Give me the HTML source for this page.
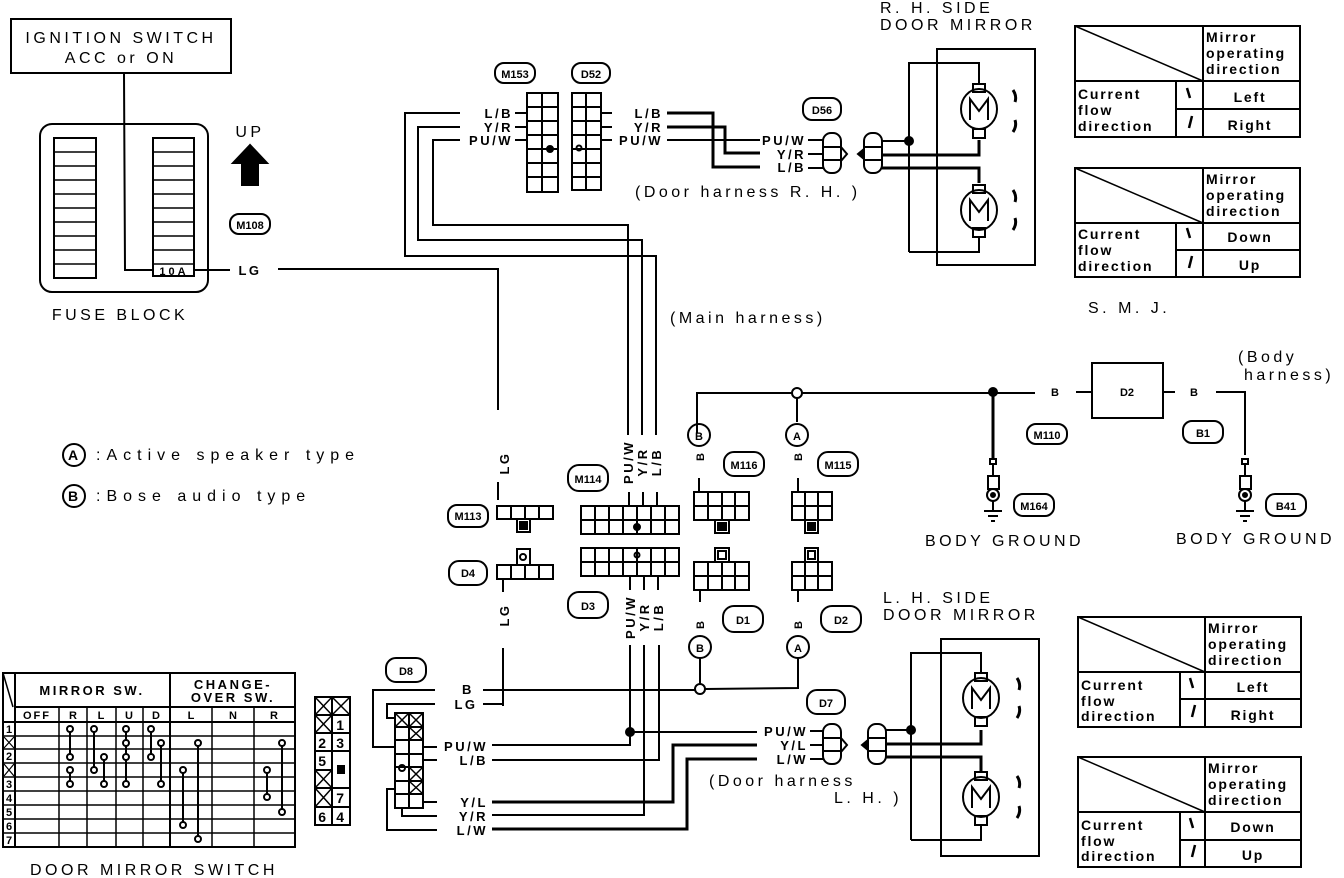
<!DOCTYPE html>
<html><head><meta charset="utf-8"><style>
html,body{margin:0;padding:0;background:#fff;}
svg{display:block;}
text{font-family:"Liberation Sans",sans-serif;fill:#000;}
.t{font-size:16px;letter-spacing:3.5px;}
.lg{font-size:16px;letter-spacing:6px;}
.s{font-size:13px;font-weight:bold;letter-spacing:2.5px;}
.m{font-size:14px;letter-spacing:1.8px;font-weight:bold;}
.n{font-size:11px;font-weight:bold;}
</style></head><body>
<svg width="1344" height="878" viewBox="0 0 1344 878" xmlns="http://www.w3.org/2000/svg" stroke="#000" fill="none" stroke-width="2">

<rect x="11" y="19" width="220" height="54"/>
<text class="t" x="121" y="43" text-anchor="middle" stroke="none">IGNITION SWITCH</text>
<text class="t" x="121" y="63" text-anchor="middle" stroke="none">ACC or ON</text>
<polyline points="124,73 125,270 154,270"/>
<rect x="40" y="124" width="168" height="168" rx="12"/>
<rect x="54" y="138" width="42" height="140"/>
<g stroke-width="1.5">
<line x1="54" y1="152" x2="96" y2="152"/><line x1="54" y1="166" x2="96" y2="166"/><line x1="54" y1="180" x2="96" y2="180"/><line x1="54" y1="194" x2="96" y2="194"/><line x1="54" y1="208" x2="96" y2="208"/><line x1="54" y1="222" x2="96" y2="222"/><line x1="54" y1="236" x2="96" y2="236"/><line x1="54" y1="250" x2="96" y2="250"/><line x1="54" y1="264" x2="96" y2="264"/>
</g>
<rect x="153" y="138" width="41" height="138"/>
<g stroke-width="1.5">
<line x1="153" y1="152" x2="194" y2="152"/><line x1="153" y1="166" x2="194" y2="166"/><line x1="153" y1="180" x2="194" y2="180"/><line x1="153" y1="194" x2="194" y2="194"/><line x1="153" y1="208" x2="194" y2="208"/><line x1="153" y1="222" x2="194" y2="222"/><line x1="153" y1="236" x2="194" y2="236"/><line x1="153" y1="250" x2="194" y2="250"/><line x1="153" y1="264" x2="194" y2="264"/>
</g>
<text class="n" x="174" y="275" text-anchor="middle" stroke="none" letter-spacing="3">10A</text>
<line x1="194" y1="270" x2="230" y2="270"/>
<text class="s" x="250" y="275" text-anchor="middle" stroke="none">LG</text>
<text class="t" x="120" y="320" text-anchor="middle" stroke="none">FUSE BLOCK</text>
<text class="t" x="250" y="137" text-anchor="middle" stroke="none">UP</text>
<polygon points="250,145 233,163 242,163 242,185 258,185 258,163 267,163" fill="#000"/>
<rect x="230" y="214" width="40" height="20" rx="9"/>
<text class="n" x="250" y="229" text-anchor="middle" stroke="none">M108</text>

<circle cx="74" cy="455" r="11"/><text class="m" x="74" y="460" text-anchor="middle" stroke="none" letter-spacing="0">A</text>
<text class="lg" x="96" y="460" stroke="none">:Active speaker type</text>
<circle cx="74" cy="496" r="11"/><text class="m" x="74" y="501" text-anchor="middle" stroke="none" letter-spacing="0">B</text>
<text class="lg" x="96" y="501" stroke="none">:Bose audio type</text>

<polyline points="278,269 498,269 498,410"/>
<text class="s" transform="translate(509,463) rotate(-90)" text-anchor="middle" stroke="none">LG</text>
<line x1="498" y1="482" x2="498" y2="500"/>
<rect x="448" y="505" width="40" height="22" rx="9"/><text class="n" x="468" y="520" text-anchor="middle" stroke="none">M113</text>
<rect x="497" y="506" width="56" height="13"/>
<line x1="511" y1="506" x2="511" y2="519"/><line x1="525" y1="506" x2="525" y2="519"/><line x1="539" y1="506" x2="539" y2="519"/>
<rect x="517" y="519" width="13" height="13"/><rect x="520" y="522" width="7" height="7" fill="#000"/>
<rect x="449" y="561" width="38" height="24" rx="10"/><text class="n" x="468" y="577" text-anchor="middle" stroke="none">D4</text>
<rect x="497" y="565" width="56" height="14"/>
<line x1="511" y1="565" x2="511" y2="579"/><line x1="525" y1="565" x2="525" y2="579"/><line x1="539" y1="565" x2="539" y2="579"/>
<rect x="517" y="549" width="13" height="16"/><circle cx="523" cy="557" r="3"/>
<line x1="503" y1="579" x2="503" y2="592"/>
<text class="s" transform="translate(509,615) rotate(-90)" text-anchor="middle" stroke="none">LG</text>
<line x1="503" y1="648" x2="503" y2="706"/>

<rect x="495" y="63" width="40" height="20" rx="9"/><text class="n" x="515" y="78" text-anchor="middle" stroke="none">M153</text>
<rect x="572" y="63" width="38" height="20" rx="9"/><text class="n" x="591" y="78" text-anchor="middle" stroke="none">D52</text>
<rect x="527" y="93" width="31" height="99"/>
<line x1="542" y1="93" x2="542" y2="192"/>
<line x1="527" y1="107" x2="558" y2="107"/><line x1="527" y1="121" x2="558" y2="121"/><line x1="527" y1="135" x2="558" y2="135"/><line x1="527" y1="149" x2="558" y2="149"/><line x1="527" y1="163" x2="558" y2="163"/><line x1="527" y1="177" x2="558" y2="177"/>
<circle cx="550" cy="149" r="3" fill="#000"/>
<rect x="572" y="93" width="29" height="97"/>
<line x1="586" y1="93" x2="586" y2="190"/>
<line x1="572" y1="107" x2="601" y2="107"/><line x1="572" y1="121" x2="601" y2="121"/><line x1="572" y1="135" x2="601" y2="135"/><line x1="572" y1="149" x2="601" y2="149"/><line x1="572" y1="163" x2="601" y2="163"/><line x1="572" y1="177" x2="601" y2="177"/>
<circle cx="579" cy="148" r="2.5"/>
<text class="s" x="513" y="118" text-anchor="end" stroke="none">L/B</text>
<text class="s" x="513" y="132" text-anchor="end" stroke="none">Y/R</text>
<text class="s" x="513" y="145" text-anchor="end" stroke="none">PU/W</text>
<line x1="515" y1="113" x2="527" y2="113"/><line x1="515" y1="127" x2="527" y2="127"/><line x1="515" y1="140" x2="527" y2="140"/>
<polyline points="460,113 405,113 405,256 656,256 656,435"/>
<polyline points="460,127 418,127 418,240 642,240 642,435"/>
<polyline points="460,140 433,140 433,225 628,225 628,435"/>
<text class="s" x="663" y="118" text-anchor="end" stroke="none">L/B</text>
<text class="s" x="663" y="132" text-anchor="end" stroke="none">Y/R</text>
<text class="s" x="663" y="145" text-anchor="end" stroke="none">PU/W</text>
<line x1="601" y1="113" x2="612" y2="113"/><line x1="601" y1="127" x2="612" y2="127"/><line x1="601" y1="140" x2="612" y2="140"/>
<polyline points="667,113 713,113 713,167 760,167" stroke-width="3"/>
<polyline points="667,127 725,127 725,153 760,153" stroke-width="3"/>
<line x1="667" y1="140" x2="760" y2="140"/>
<rect x="803" y="98" width="38" height="22" rx="9"/><text class="n" x="822" y="114" text-anchor="middle" stroke="none">D56</text>
<text class="s" x="806" y="145" text-anchor="end" stroke="none">PU/W</text>
<text class="s" x="806" y="159" text-anchor="end" stroke="none">Y/R</text>
<text class="s" x="806" y="172" text-anchor="end" stroke="none">L/B</text>
<line x1="808" y1="140" x2="823" y2="140"/><line x1="808" y1="154" x2="823" y2="154"/><line x1="808" y1="168" x2="823" y2="168"/>
<rect x="823" y="133" width="18" height="40" rx="8"/><line x1="823" y1="147" x2="841" y2="147"/><line x1="823" y1="160" x2="841" y2="160"/>
<polyline points="841,147 847,154 841,161"/>
<rect x="864" y="133" width="18" height="40" rx="8"/><line x1="864" y1="147" x2="882" y2="147"/><line x1="864" y1="160" x2="882" y2="160"/>
<polygon points="864,149 858,154 864,159" fill="#000"/>
<text class="t" x="635" y="197" stroke="none">(Door harness R. H. )</text>

<text class="t" x="880" y="13" stroke="none">R. H.  SIDE</text>
<text class="t" x="880" y="30" stroke="none">DOOR MIRROR</text>
<rect x="937" y="49" width="98" height="216"/>
<polyline points="909,252 909,63 979,63 979,84"/>
<line x1="882" y1="141" x2="909" y2="141"/><circle cx="909" cy="141" r="4" fill="#000"/>
<polyline points="882,155 979,155 979,140" stroke-width="3"/>
<polyline points="882,168 979,168 979,183" stroke-width="3"/>
<polyline points="979,237 979,252 909,252"/>
<rect x="973" y="84" width="12" height="8"/><ellipse cx="979" cy="109" rx="18" ry="20"/><rect x="973" y="129" width="12" height="9"/>
<polyline points="970,120 970,99 979,111 988,99 988,120"/>
<rect x="973" y="185" width="12" height="8"/><ellipse cx="979" cy="210" rx="18" ry="20"/><rect x="973" y="228" width="12" height="9"/>
<polyline points="970,221 970,200 979,212 988,200 988,221"/>
<path d="M1013,90 q4,6 2,12 M1015,120 q2,6 -2,12 M1013,190 q4,6 2,12 M1015,218 q2,6 -2,12" stroke-width="3"/>

<g>
<rect x="1075" y="26" width="225" height="111"/>
<line x1="1075" y1="26" x2="1203" y2="81" stroke-width="1.5"/>
<line x1="1075" y1="81" x2="1300" y2="81"/><line x1="1203" y1="26" x2="1203" y2="137"/>
<line x1="1176" y1="81" x2="1176" y2="137"/><line x1="1176" y1="109" x2="1300" y2="109"/>
<text class="m" x="1206" y="42" stroke="none">Mirror</text><text class="m" x="1206" y="58" stroke="none">operating</text><text class="m" x="1206" y="74" stroke="none">direction</text>
<text class="m" x="1078" y="99" stroke="none">Current</text><text class="m" x="1078" y="115" stroke="none">flow</text><text class="m" x="1078" y="131" stroke="none">direction</text>
<text class="m" x="1250" y="102" text-anchor="middle" stroke="none">Left</text><text class="m" x="1250" y="130" text-anchor="middle" stroke="none">Right</text>
<path d="M1187,88 l3,10 M1192,116 l-3,12" stroke-width="2.5"/>
</g>
<g>
<rect x="1075" y="168" width="225" height="109"/>
<line x1="1075" y1="168" x2="1203" y2="223" stroke-width="1.5"/>
<line x1="1075" y1="223" x2="1300" y2="223"/><line x1="1203" y1="168" x2="1203" y2="277"/>
<line x1="1176" y1="223" x2="1176" y2="277"/><line x1="1176" y1="250" x2="1300" y2="250"/>
<text class="m" x="1206" y="184" stroke="none">Mirror</text><text class="m" x="1206" y="200" stroke="none">operating</text><text class="m" x="1206" y="216" stroke="none">direction</text>
<text class="m" x="1078" y="239" stroke="none">Current</text><text class="m" x="1078" y="255" stroke="none">flow</text><text class="m" x="1078" y="271" stroke="none">direction</text>
<text class="m" x="1250" y="242" text-anchor="middle" stroke="none">Down</text><text class="m" x="1250" y="270" text-anchor="middle" stroke="none">Up</text>
<path d="M1187,228 l3,10 M1192,256 l-3,12" stroke-width="2.5"/>
</g>
<text class="t" x="1088" y="313" stroke="none">S. M. J.</text>
<g>
<rect x="1078" y="617" width="223" height="110"/>
<line x1="1078" y1="617" x2="1205" y2="672" stroke-width="1.5"/>
<line x1="1078" y1="672" x2="1301" y2="672"/><line x1="1205" y1="617" x2="1205" y2="727"/>
<line x1="1180" y1="672" x2="1180" y2="727"/><line x1="1180" y1="699" x2="1301" y2="699"/>
<text class="m" x="1208" y="633" stroke="none">Mirror</text><text class="m" x="1208" y="649" stroke="none">operating</text><text class="m" x="1208" y="665" stroke="none">direction</text>
<text class="m" x="1081" y="690" stroke="none">Current</text><text class="m" x="1081" y="706" stroke="none">flow</text><text class="m" x="1081" y="721" stroke="none">direction</text>
<text class="m" x="1253" y="692" text-anchor="middle" stroke="none">Left</text><text class="m" x="1253" y="720" text-anchor="middle" stroke="none">Right</text>
<path d="M1190,678 l3,10 M1195,705 l-3,12" stroke-width="2.5"/>
</g>
<g>
<rect x="1078" y="757" width="223" height="110"/>
<line x1="1078" y1="757" x2="1205" y2="812" stroke-width="1.5"/>
<line x1="1078" y1="812" x2="1301" y2="812"/><line x1="1205" y1="757" x2="1205" y2="867"/>
<line x1="1180" y1="812" x2="1180" y2="867"/><line x1="1180" y1="840" x2="1301" y2="840"/>
<text class="m" x="1208" y="773" stroke="none">Mirror</text><text class="m" x="1208" y="789" stroke="none">operating</text><text class="m" x="1208" y="805" stroke="none">direction</text>
<text class="m" x="1081" y="830" stroke="none">Current</text><text class="m" x="1081" y="846" stroke="none">flow</text><text class="m" x="1081" y="861" stroke="none">direction</text>
<text class="m" x="1253" y="832" text-anchor="middle" stroke="none">Down</text><text class="m" x="1253" y="860" text-anchor="middle" stroke="none">Up</text>
<path d="M1190,818 l3,10 M1195,845 l-3,12" stroke-width="2.5"/>
</g>

<text class="t" x="670" y="323" stroke="none">(Main harness)</text>
<polyline points="697,433 697,393 1035,393"/>
<circle cx="797" cy="393" r="5" fill="#fff"/>
<line x1="797" y1="398" x2="797" y2="422"/>
<circle cx="993" cy="392" r="4" fill="#000"/>
<polyline points="993,392 993,460" stroke-width="3"/>
<text class="n" x="1055" y="396" text-anchor="middle" stroke="none">B</text>
<line x1="1076" y1="392" x2="1092" y2="392"/>
<rect x="1092" y="363" width="71" height="55"/>
<text class="n" x="1127" y="396" text-anchor="middle" stroke="none">D2</text>
<line x1="1163" y1="392" x2="1175" y2="392"/>
<text class="n" x="1194" y="396" text-anchor="middle" stroke="none">B</text>
<polyline points="1216,392 1245,392 1245,455"/>
<text class="t" x="1238" y="362" stroke="none">(Body</text>
<text class="t" x="1244" y="380" stroke="none">harness)</text>
<rect x="1027" y="424" width="40" height="20" rx="9"/><text class="n" x="1047" y="439" text-anchor="middle" stroke="none">M110</text>
<rect x="1183" y="421" width="40" height="22" rx="9"/><text class="n" x="1203" y="437" text-anchor="middle" stroke="none">B1</text>
<g>
<rect x="990" y="459" width="6" height="5"/><line x1="993" y1="464" x2="993" y2="476"/>
<rect x="988" y="476" width="11" height="13"/><circle cx="993" cy="495" r="6"/><circle cx="993" cy="495" r="2" fill="#000"/>
<line x1="993" y1="501" x2="993" y2="511"/><line x1="984" y1="511" x2="1002" y2="511"/><line x1="988" y1="516" x2="998" y2="516"/><line x1="991" y1="521" x2="995" y2="521"/>
<rect x="1014" y="494" width="40" height="22" rx="9"/><text class="n" x="1034" y="510" text-anchor="middle" stroke="none">M164</text>
<text class="t" x="925" y="546" stroke="none">BODY GROUND</text>
</g>
<g>
<rect x="1242" y="459" width="6" height="5"/><line x1="1245" y1="464" x2="1245" y2="476"/>
<rect x="1240" y="476" width="11" height="13"/><circle cx="1245" cy="495" r="6"/><circle cx="1245" cy="495" r="2" fill="#000"/>
<line x1="1245" y1="501" x2="1245" y2="511"/><line x1="1236" y1="511" x2="1254" y2="511"/><line x1="1240" y1="516" x2="1250" y2="516"/><line x1="1243" y1="521" x2="1247" y2="521"/>
<rect x="1266" y="494" width="40" height="22" rx="9"/><text class="n" x="1286" y="510" text-anchor="middle" stroke="none">B41</text>
<text class="t" x="1176" y="544" stroke="none">BODY GROUND</text>
</g>

<circle cx="699" cy="435" r="11"/><text class="n" x="699" y="440" text-anchor="middle" stroke="none">B</text>
<circle cx="797" cy="435" r="11"/><text class="n" x="797" y="440" text-anchor="middle" stroke="none">A</text>
<text class="n" transform="translate(704,457) rotate(-90)" text-anchor="middle" stroke="none">B</text>
<text class="n" transform="translate(802,457) rotate(-90)" text-anchor="middle" stroke="none">B</text>
<line x1="699" y1="478" x2="699" y2="491"/><line x1="798" y1="478" x2="798" y2="491"/>
<rect x="724" y="452" width="40" height="24" rx="10"/><text class="n" x="744" y="469" text-anchor="middle" stroke="none">M116</text>
<rect x="694" y="492" width="55" height="28"/><line x1="694" y1="506" x2="749" y2="506"/>
<line x1="708" y1="492" x2="708" y2="520"/><line x1="722" y1="492" x2="722" y2="520"/><line x1="735" y1="492" x2="735" y2="520"/>
<rect x="715" y="520" width="14" height="13"/><rect x="718" y="523" width="8" height="7" fill="#000"/>
<rect x="818" y="452" width="40" height="24" rx="10"/><text class="n" x="838" y="469" text-anchor="middle" stroke="none">M115</text>
<rect x="792" y="492" width="40" height="28"/><line x1="792" y1="506" x2="832" y2="506"/>
<line x1="805" y1="492" x2="805" y2="520"/><line x1="818" y1="492" x2="818" y2="520"/>
<rect x="805" y="520" width="13" height="13"/><rect x="808" y="523" width="7" height="7" fill="#000"/>
<rect x="694" y="562" width="55" height="28"/><line x1="694" y1="576" x2="749" y2="576"/>
<line x1="708" y1="562" x2="708" y2="590"/><line x1="722" y1="562" x2="722" y2="590"/><line x1="735" y1="562" x2="735" y2="590"/>
<rect x="715" y="548" width="14" height="14"/><rect x="718" y="551" width="8" height="8"/>
<line x1="700" y1="590" x2="700" y2="602"/>
<rect x="723" y="606" width="40" height="26" rx="11"/><text class="n" x="743" y="624" text-anchor="middle" stroke="none">D1</text>
<rect x="792" y="562" width="40" height="28"/><line x1="792" y1="576" x2="832" y2="576"/>
<line x1="805" y1="562" x2="805" y2="590"/><line x1="818" y1="562" x2="818" y2="590"/>
<rect x="805" y="548" width="13" height="14"/><rect x="808" y="551" width="7" height="8"/>
<line x1="798" y1="590" x2="798" y2="602"/>
<rect x="821" y="606" width="40" height="26" rx="11"/><text class="n" x="841" y="624" text-anchor="middle" stroke="none">D2</text>
<text class="n" transform="translate(704,625) rotate(-90)" text-anchor="middle" stroke="none">B</text>
<text class="n" transform="translate(802,625) rotate(-90)" text-anchor="middle" stroke="none">B</text>
<circle cx="700" cy="647" r="11"/><text class="n" x="700" y="652" text-anchor="middle" stroke="none">B</text>
<circle cx="798" cy="647" r="11"/><text class="n" x="798" y="652" text-anchor="middle" stroke="none">A</text>
<line x1="700" y1="658" x2="700" y2="684"/>
<polyline points="798,658 798,688 705,689"/>
<line x1="483" y1="690" x2="695" y2="690"/>
<circle cx="700" cy="689" r="5" fill="#fff"/>

<rect x="568" y="465" width="40" height="26" rx="11"/><text class="n" x="588" y="483" text-anchor="middle" stroke="none">M114</text>
<text class="s" transform="translate(633,462) rotate(-90)" text-anchor="middle" stroke="none">PU/W</text>
<text class="s" transform="translate(647,462) rotate(-90)" text-anchor="middle" stroke="none">Y/R</text>
<text class="s" transform="translate(661,462) rotate(-90)" text-anchor="middle" stroke="none">L/B</text>
<line x1="629" y1="492" x2="629" y2="506"/><line x1="643" y1="492" x2="643" y2="506"/><line x1="657" y1="492" x2="657" y2="506"/>
<rect x="581" y="506" width="98" height="28"/><line x1="581" y1="520" x2="679" y2="520"/>
<line x1="595" y1="506" x2="595" y2="534"/><line x1="609" y1="506" x2="609" y2="534"/><line x1="623" y1="506" x2="623" y2="534"/><line x1="637" y1="506" x2="637" y2="534"/><line x1="651" y1="506" x2="651" y2="534"/><line x1="665" y1="506" x2="665" y2="534"/>
<circle cx="637" cy="527" r="3" fill="#000"/>
<rect x="581" y="548" width="98" height="28"/><line x1="581" y1="562" x2="679" y2="562"/>
<line x1="595" y1="548" x2="595" y2="576"/><line x1="609" y1="548" x2="609" y2="576"/><line x1="623" y1="548" x2="623" y2="576"/><line x1="637" y1="548" x2="637" y2="576"/><line x1="651" y1="548" x2="651" y2="576"/><line x1="665" y1="548" x2="665" y2="576"/>
<circle cx="637" cy="555" r="2.5"/>
<rect x="568" y="592" width="40" height="26" rx="11"/><text class="n" x="588" y="610" text-anchor="middle" stroke="none">D3</text>
<line x1="630" y1="576" x2="630" y2="590"/><line x1="644" y1="576" x2="644" y2="590"/><line x1="658" y1="576" x2="658" y2="590"/>
<text class="s" transform="translate(635,617) rotate(-90)" text-anchor="middle" stroke="none">PU/W</text>
<text class="s" transform="translate(649,617) rotate(-90)" text-anchor="middle" stroke="none">Y/R</text>
<text class="s" transform="translate(663,617) rotate(-90)" text-anchor="middle" stroke="none">L/B</text>
<polyline points="630,645 630,745 492,745"/>
<polyline points="644,645 644,815 492,815"/>
<polyline points="659,645 659,760 492,760"/>
<circle cx="630" cy="732" r="4" fill="#000"/>
<line x1="630" y1="732" x2="757" y2="732"/>
<polyline points="492,802 673,802 673,745 757,745" stroke-width="3"/>
<polyline points="492,829 687,829 687,759 757,759" stroke-width="3"/>

<rect x="807" y="690" width="38" height="24" rx="10"/><text class="n" x="826" y="707" text-anchor="middle" stroke="none">D7</text>
<text class="s" x="808" y="736" text-anchor="end" stroke="none">PU/W</text>
<text class="s" x="808" y="750" text-anchor="end" stroke="none">Y/L</text>
<text class="s" x="808" y="764" text-anchor="end" stroke="none">L/W</text>
<line x1="810" y1="731" x2="823" y2="731"/><line x1="810" y1="745" x2="823" y2="745"/><line x1="810" y1="759" x2="823" y2="759"/>
<rect x="823" y="724" width="18" height="40" rx="8"/><line x1="823" y1="738" x2="841" y2="738"/><line x1="823" y1="751" x2="841" y2="751"/>
<polyline points="841,738 847,745 841,752"/>
<rect x="868" y="724" width="18" height="40" rx="8"/><line x1="868" y1="738" x2="886" y2="738"/><line x1="868" y1="751" x2="886" y2="751"/>
<polygon points="868,740 862,745 868,750" fill="#000"/>
<text class="t" x="709" y="786" stroke="none">(Door harness</text>
<text class="t" x="834" y="803" stroke="none">L. H. )</text>

<text class="t" x="883" y="603" stroke="none">L. H.  SIDE</text>
<text class="t" x="883" y="620" stroke="none">DOOR MIRROR</text>
<rect x="941" y="639" width="98" height="217"/>
<polyline points="911,840 911,653 981,653 981,672"/>
<line x1="886" y1="730" x2="911" y2="730"/><circle cx="911" cy="730" r="4" fill="#000"/>
<polyline points="886,744 981,744 981,730" stroke-width="3"/>
<polyline points="886,757 981,757 981,772" stroke-width="3"/>
<polyline points="981,826 981,840 911,840"/>
<rect x="975" y="673" width="12" height="8"/><ellipse cx="981" cy="698" rx="18" ry="20"/><rect x="975" y="717" width="12" height="9"/>
<polyline points="972,709 972,688 981,700 990,688 990,709"/>
<rect x="975" y="772" width="12" height="8"/><ellipse cx="981" cy="797" rx="18" ry="20"/><rect x="975" y="816" width="12" height="9"/>
<polyline points="972,808 972,787 981,799 990,787 990,808"/>
<path d="M1017,678 q4,6 2,12 M1019,706 q2,6 -2,12 M1017,776 q4,6 2,12 M1019,806 q2,6 -2,12" stroke-width="3"/>

<rect x="386" y="658" width="40" height="24" rx="10"/><text class="n" x="406" y="675" text-anchor="middle" stroke="none">D8</text>
<text class="s" x="468" y="694" text-anchor="middle" stroke="none">B</text>
<text class="s" x="466" y="709" text-anchor="middle" stroke="none">LG</text>
<polyline points="435,690 373,690 373,747 395,747"/>
<polyline points="435,704 387,704 387,718 395,718"/>
<line x1="483" y1="704" x2="503" y2="704"/>
<rect x="395" y="713" width="28" height="95"/>
<line x1="409" y1="713" x2="409" y2="808"/>
<line x1="395" y1="727" x2="423" y2="727"/><line x1="395" y1="740" x2="423" y2="740"/><line x1="395" y1="754" x2="423" y2="754"/><line x1="395" y1="767" x2="423" y2="767"/><line x1="395" y1="781" x2="423" y2="781"/><line x1="395" y1="794" x2="423" y2="794"/>
<path d="M395,713 l14,14 M409,713 l-14,14 M409,713 l14,14 M423,713 l-14,14 M409,727 l14,13 M423,727 l-14,13 M409,767 l14,14 M423,767 l-14,14 M409,781 l14,13 M423,781 l-14,13" stroke-width="1.5"/>
<circle cx="402" cy="768" r="3"/>
<line x1="423" y1="747" x2="437" y2="747"/><line x1="423" y1="760" x2="437" y2="760"/><line x1="423" y1="802" x2="437" y2="802"/>
<polyline points="402,808 402,816 437,816"/>
<polyline points="395,789 387,789 387,830 437,830"/>
<text class="s" x="488" y="751" text-anchor="end" stroke="none">PU/W</text>
<text class="s" x="488" y="765" text-anchor="end" stroke="none">L/B</text>
<text class="s" x="488" y="807" text-anchor="end" stroke="none">Y/L</text>
<text class="s" x="488" y="821" text-anchor="end" stroke="none">Y/R</text>
<text class="s" x="488" y="835" text-anchor="end" stroke="none">L/W</text>

<rect x="315" y="697" width="35" height="128"/>
<line x1="332" y1="697" x2="332" y2="825"/>
<line x1="315" y1="715" x2="350" y2="715"/><line x1="315" y1="733" x2="350" y2="733"/><line x1="315" y1="751" x2="350" y2="751"/><line x1="315" y1="770" x2="332" y2="770"/><line x1="315" y1="788" x2="350" y2="788"/><line x1="315" y1="807" x2="350" y2="807"/>
<path d="M315,697 l17,18 M332,697 l-17,18 M332,697 l18,18 M350,697 l-18,18 M315,715 l17,18 M332,715 l-17,18 M315,770 l17,18 M332,770 l-17,18 M315,788 l17,19 M332,788 l-17,19" stroke-width="1.5"/>
<text class="m" x="341" y="730" text-anchor="middle" stroke="none" letter-spacing="0">1</text>
<text class="m" x="323" y="748" text-anchor="middle" stroke="none" letter-spacing="0">2</text><text class="m" x="341" y="748" text-anchor="middle" stroke="none" letter-spacing="0">3</text>
<text class="m" x="323" y="766" text-anchor="middle" stroke="none" letter-spacing="0">5</text>
<rect x="337" y="765" width="8" height="9" fill="#000" stroke="none"/>
<text class="m" x="341" y="803" text-anchor="middle" stroke="none" letter-spacing="0">7</text>
<text class="m" x="323" y="822" text-anchor="middle" stroke="none" letter-spacing="0">6</text><text class="m" x="341" y="822" text-anchor="middle" stroke="none" letter-spacing="0">4</text>

<rect x="3" y="673" width="292" height="174"/>
<line x1="15" y1="673" x2="15" y2="847"/>
<line x1="3" y1="673" x2="13" y2="707" stroke-width="1.5"/>
<line x1="170" y1="673" x2="170" y2="847"/>
<line x1="15" y1="707" x2="295" y2="707"/>
<line x1="3" y1="722" x2="295" y2="722"/>
<g stroke-width="1.5">
<line x1="59" y1="707" x2="59" y2="847"/><line x1="87" y1="707" x2="87" y2="847"/><line x1="116" y1="707" x2="116" y2="847"/><line x1="143" y1="707" x2="143" y2="847"/><line x1="212" y1="707" x2="212" y2="847"/><line x1="254" y1="707" x2="254" y2="847"/>
<line x1="3" y1="736" x2="295" y2="736"/><line x1="3" y1="749" x2="295" y2="749"/><line x1="3" y1="763" x2="295" y2="763"/><line x1="3" y1="777" x2="295" y2="777"/><line x1="3" y1="791" x2="295" y2="791"/><line x1="3" y1="805" x2="295" y2="805"/><line x1="3" y1="819" x2="295" y2="819"/><line x1="3" y1="833" x2="295" y2="833"/>
</g>
<text class="s" x="92" y="695" text-anchor="middle" stroke="none" letter-spacing="3">MIRROR SW.</text>
<text class="s" x="233" y="689" text-anchor="middle" stroke="none" letter-spacing="3">CHANGE-</text>
<text class="s" x="233" y="702" text-anchor="middle" stroke="none" letter-spacing="3">OVER SW.</text>
<g class="n" font-size="10" stroke="none" text-anchor="middle">
<text x="37" y="719" stroke="none" letter-spacing="2">OFF</text><text x="73" y="719" stroke="none">R</text><text x="101" y="719" stroke="none">L</text><text x="129" y="719" stroke="none">U</text><text x="156" y="719" stroke="none">D</text><text x="191" y="719" stroke="none">L</text><text x="233" y="719" stroke="none">N</text><text x="274" y="719" stroke="none">R</text>
<text x="9" y="733" stroke="none">1</text><text x="9" y="760" stroke="none">2</text><text x="9" y="788" stroke="none">3</text><text x="9" y="802" stroke="none">4</text><text x="9" y="816" stroke="none">5</text><text x="9" y="830" stroke="none">6</text><text x="9" y="844" stroke="none">7</text>
</g>
<path d="M4,737 l10,11 M14,737 l-10,11 M4,764 l10,12 M14,764 l-10,12" stroke-width="1.2"/>
<g stroke-width="2">
<line x1="70" y1="729" x2="70" y2="757"/><line x1="70" y1="770" x2="70" y2="784"/>
<line x1="94" y1="729" x2="94" y2="770"/><line x1="104" y1="757" x2="104" y2="784"/>
<line x1="126" y1="729" x2="126" y2="784"/>
<line x1="151" y1="729" x2="151" y2="757"/><line x1="161" y1="743" x2="161" y2="784"/>
<line x1="183" y1="770" x2="183" y2="825"/><line x1="198" y1="743" x2="198" y2="839"/>
<line x1="267" y1="770" x2="267" y2="797"/><line x1="282" y1="743" x2="282" y2="812"/>
</g>
<g fill="#fff" stroke-width="2">
<circle cx="70" cy="729" r="3"/><circle cx="70" cy="757" r="3"/><circle cx="70" cy="770" r="3"/><circle cx="70" cy="784" r="3"/>
<circle cx="94" cy="729" r="3"/><circle cx="94" cy="770" r="3"/><circle cx="104" cy="757" r="3"/><circle cx="104" cy="784" r="3"/>
<circle cx="126" cy="729" r="3"/><circle cx="126" cy="743" r="3"/><circle cx="126" cy="757" r="3"/><circle cx="126" cy="784" r="3"/>
<circle cx="151" cy="729" r="3"/><circle cx="151" cy="757" r="3"/><circle cx="161" cy="743" r="3"/><circle cx="161" cy="784" r="3"/>
<circle cx="183" cy="770" r="3"/><circle cx="183" cy="825" r="3"/><circle cx="198" cy="743" r="3"/><circle cx="198" cy="839" r="3"/>
<circle cx="267" cy="770" r="3"/><circle cx="267" cy="797" r="3"/><circle cx="282" cy="743" r="3"/><circle cx="282" cy="812" r="3"/>
</g>
<text class="t" x="30" y="875" stroke="none" letter-spacing="4.5">DOOR MIRROR SWITCH</text>
</svg>
</body></html>
